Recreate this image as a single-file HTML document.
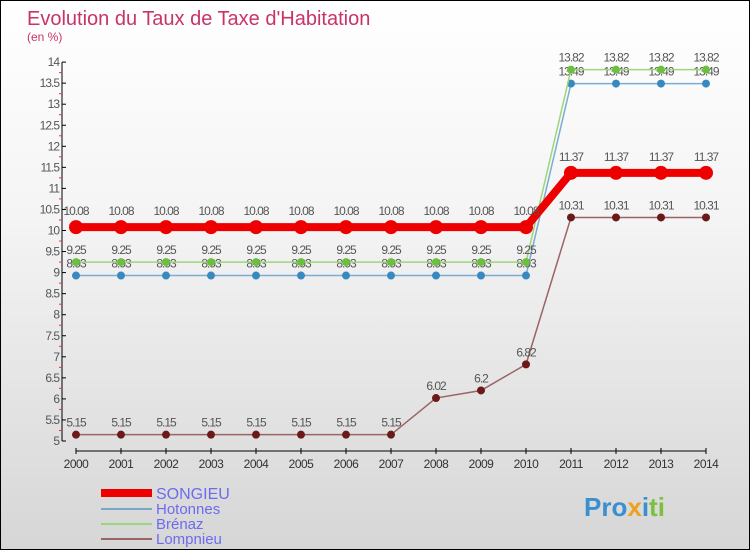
<!DOCTYPE html>
<html><head><meta charset="utf-8"><style>
body{margin:0;}
#c{width:748px;height:548px;border:1px solid #000;background:linear-gradient(#ffffff,#f4f4f4 40%,#d6d6d6);position:relative;overflow:hidden;font-family:"Liberation Sans",sans-serif;}
</style></head><body>
<div id="c">
<svg id="s" width="748" height="548" xmlns="http://www.w3.org/2000/svg">
<text x="26" y="24" font-size="20" fill="#c8336a">Evolution du Taux de Taxe d'Habitation</text>
<text x="26" y="40" font-size="12" fill="#c8336a">(en %)</text>
<g id="ax"></g><g id="ser"></g>
<g>
<line x1="100" y1="492" x2="151" y2="492" stroke="#e00" stroke-width="8"/>
<text x="155" y="498" font-size="16" fill="#6b6bf0">SONGIEU</text>
<line x1="100" y1="508" x2="151" y2="508" stroke="#7ca6c8" stroke-width="2"/>
<text x="155" y="513" font-size="15" fill="#6b6bf0">Hotonnes</text>
<line x1="100" y1="523" x2="151" y2="523" stroke="#9cd67a" stroke-width="2"/>
<text x="155" y="528" font-size="15" fill="#6b6bf0">Brénaz</text>
<line x1="100" y1="538" x2="151" y2="538" stroke="#9a6464" stroke-width="2"/>
<text x="155" y="543" font-size="15" fill="#6b6bf0">Lompnieu</text>
</g>
<text x="583" y="515" font-size="26" font-weight="bold"><tspan fill="#3a8fd0">Pro</tspan><tspan fill="#f0a020">x</tspan><tspan fill="#3a8fd0">i</tspan><tspan fill="#7cc040">ti</tspan></text>
</svg></div>
<script>
const years=[2000,2001,2002,2003,2004,2005,2006,2007,2008,2009,2010,2011,2012,2013,2014];
const songieu=[10.08,10.08,10.08,10.08,10.08,10.08,10.08,10.08,10.08,10.08,10.08,11.37,11.37,11.37,11.37];
const hotonnes=[8.93,8.93,8.93,8.93,8.93,8.93,8.93,8.93,8.93,8.93,8.93,13.49,13.49,13.49,13.49];
const brenaz=[9.25,9.25,9.25,9.25,9.25,9.25,9.25,9.25,9.25,9.25,9.25,13.82,13.82,13.82,13.82];
const lompnieu=[5.15,5.15,5.15,5.15,5.15,5.15,5.15,5.15,6.02,6.2,6.82,10.31,10.31,10.31,10.31];
const yTicks=[5,5.5,6,6.5,7,7.5,8,8.5,9,9.5,10,10.5,11,11.5,12,12.5,13,13.5,14];
const NS="http://www.w3.org/2000/svg";
const X=i=>75+i*45, Y=v=>440-(v-5)*42.1;
function mk(t,a,p){const e=document.createElementNS(NS,t);for(const k in a)e.setAttribute(k,a[k]);p.appendChild(e);return e;}
const ax=document.getElementById('ax'), ser=document.getElementById('ser');
mk('line',{x1:61,y1:Y(14),x2:61,y2:Y(5),stroke:'#000'},ax);
mk('line',{x1:75,y1:450,x2:705,y2:450,stroke:'#000'},ax);
yTicks.forEach(v=>{
 mk('line',{x1:61,y1:Y(v),x2:65,y2:Y(v),stroke:'#000'},ax);
 mk('line',{x1:58,y1:Y(v+0.25),x2:61,y2:Y(v+0.25),stroke:v<14?'#e33':'none'},ax);
 const t=mk('text',{x:58,y:Y(v)+4,'font-size':12,fill:'#555','text-anchor':'end','letter-spacing':'-1'},ax);
 
 
 t.textContent=String(v);
});
years.forEach((y,i)=>{
 mk('line',{x1:X(i),y1:447,x2:X(i),y2:453,stroke:'#000'},ax);
 const t=mk('text',{x:X(i),y:467,'font-size':12,fill:'#333','text-anchor':'middle','letter-spacing':'-0.5'},ax);
 
 
 t.textContent=y;
});
function series(vals,line,dot,w,r,name,lblOff){
 const g=mk('g',{},ser);
 
 
 mk('polyline',{points:vals.map((v,i)=>X(i)+','+Y(v)).join(' '),fill:'none',stroke:line,'stroke-width':w},g);
 vals.forEach((v,i)=>{
  const c=mk('circle',{cx:X(i),cy:Y(v),r:r,fill:dot},g);
  
  
  const t=mk('text',{x:X(i),y:Y(v)+lblOff,'font-size':12,fill:'#555','text-anchor':'middle','letter-spacing':'-1'},g);
  
  
  t.textContent=String(v);
 });
}
series(lompnieu,'#9a6464','#6b1a1a',1.5,4,'series-lompnieu',-8);
series(hotonnes,'#7cacd0','#3a88c0',1.5,4,'series-hotonnes',-8);
series(brenaz,'#9cd67a','#6cc040',1.5,4,'series-brenaz',-8);
series(songieu,'#e00','#e00',8,7,'series-songieu',-12);
</script>
</body></html>
